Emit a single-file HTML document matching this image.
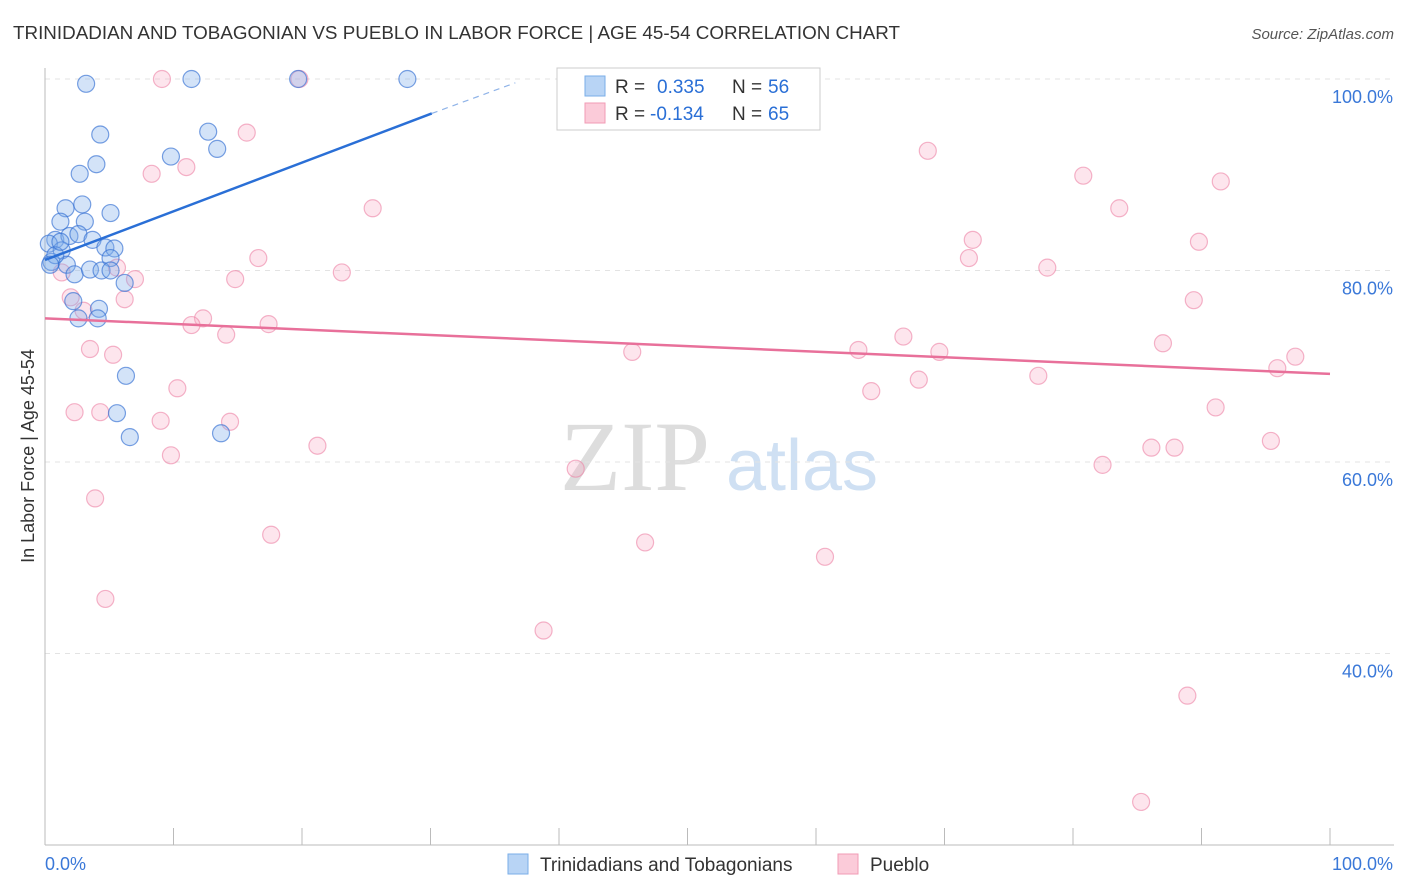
<!DOCTYPE html>
<html><head><meta charset="utf-8"><style>
body{margin:0;background:#fff;font-family:"Liberation Sans",sans-serif}
svg{display:block}
</style></head><body>
<svg width="1406" height="892" xmlns="http://www.w3.org/2000/svg">
<text x="13" y="39" font-size="18" fill="#333" textLength="887" lengthAdjust="spacingAndGlyphs">TRINIDADIAN AND TOBAGONIAN VS PUEBLO IN LABOR FORCE | AGE 45-54 CORRELATION CHART</text>
<text x="1394" y="39" font-size="15" fill="#555" font-style="italic" text-anchor="end">Source: ZipAtlas.com</text>
<text x="34" y="456" font-size="18" fill="#333" text-anchor="middle" transform="rotate(-90 34 456)">In Labor Force | Age 45-54</text>
<text x="635" y="490" font-size="100" fill="#ddd" font-family="Liberation Serif,serif" text-anchor="middle">ZIP</text>
<text x="802" y="490" font-size="72" fill="#cfe0f3" text-anchor="middle">atlas</text>
<g id="grid"></g>
<g id="axes"></g>
<g id="pts"></g>
<g id="lines"></g>
<g>
<rect x="557" y="68" width="263" height="62" fill="#fff" stroke="#ccc"/>
<rect x="585" y="76" width="20" height="20" fill="#b8d4f5" stroke="#7aaee8"/>
<rect x="585" y="103" width="20" height="20" fill="#fbcbd9" stroke="#f19bb5"/>
<text x="615" y="93" font-size="19" fill="#333">R =</text>
<text x="657" y="93" font-size="19" fill="#2a6fd6">0.335</text>
<text x="732" y="93" font-size="19" fill="#333">N =</text>
<text x="768" y="93" font-size="19" fill="#2a6fd6">56</text>
<text x="615" y="120" font-size="19" fill="#333">R =</text>
<text x="650" y="120" font-size="19" fill="#2a6fd6">-0.134</text>
<text x="732" y="120" font-size="19" fill="#333">N =</text>
<text x="768" y="120" font-size="19" fill="#2a6fd6">65</text>
</g>
<g>
<rect x="508" y="854" width="20" height="20" fill="#b8d4f5" stroke="#7aaee8"/>
<text x="540" y="871" font-size="19" fill="#333">Trinidadians and Tobagonians</text>
<rect x="838" y="854" width="20" height="20" fill="#fbcbd9" stroke="#f19bb5"/>
<text x="870" y="871" font-size="19" fill="#333">Pueblo</text>
</g>
</svg>
<script>
const blueX=[3.2,11.4,19.7,28.2,12.7,4.3,9.8,13.4,4.0,2.7,1.6,2.9,5.1,1.2,3.1,0.8,1.9,2.6,3.7,0.3,4.7,5.4,1.3,5.1,0.5,1.7,2.3,3.5,4.4,5.1,6.2,2.2,4.2,2.6,4.1,6.3,5.6,6.6,13.7,0.8,0.4,1.2];
const blueY=[99.5,100,100,100,94.5,94.2,91.9,92.7,91.1,90.1,86.5,86.9,86.0,85.1,85.1,83.2,83.6,83.8,83.2,82.8,82.4,82.3,82.1,81.3,80.9,80.6,79.6,80.1,80.0,80.0,78.7,76.8,76.0,75.0,75.0,69.0,65.1,62.6,63.0,81.6,80.6,83.0];
const pinkX=[9.1,19.8,47,59.5,15.7,8.3,11.0,68.7,80.8,91.5,25.5,83.6,72.2,89.8,16.6,71.9,23.1,78,14.8,7.0,5.6,1.3,2.0,6.2,89.4,3,12.3,11.4,17.4,14.1,66.8,3.5,5.3,45.7,63.3,69.6,87,97.3,95.9,68,77.3,10.3,64.3,2.3,4.3,9.0,14.4,91.1,9.8,21.2,95.4,86.1,87.9,82.3,41.3,3.9,17.6,46.7,60.7,4.7,38.8,88.9,85.3];
const pinkY=[100,100,100,100,94.4,90.1,90.8,92.5,89.9,89.3,86.5,86.5,83.2,83.0,81.3,81.3,79.8,80.3,79.1,79.1,80.3,79.8,77.2,77.0,76.9,75.8,75.0,74.3,74.4,73.3,73.1,71.8,71.2,71.5,71.7,71.5,72.4,71.0,69.8,68.6,69.0,67.7,67.4,65.2,65.2,64.3,64.2,65.7,60.7,61.7,62.2,61.5,61.5,59.7,59.3,56.2,52.4,51.6,50.1,45.7,42.4,35.6,24.5];
const yTicks=[100,80,60,40];
const xTickLabels=["0.0%","100.0%"];
const blueTrend=[[0,81.1],[30.1,96.4],[36.6,99.6]];
const pinkTrend=[[0,75.0],[100,69.2]];
const NS="http://www.w3.org/2000/svg";
const sx=v=>45+v*12.85, sy=v=>79+(100-v)*9.575;
function mk(t,a,p){const e=document.createElementNS(NS,t);for(const k in a)e.setAttribute(k,a[k]);p.appendChild(e);return e;}
const grid=document.getElementById('grid');
yTicks.forEach(t=>{
 const l=mk('line',{x1:45,x2:1394,y1:sy(t),y2:sy(t),stroke:'#e3e3e3','stroke-dasharray':'5,5'},grid);
 
 
 const tx=mk('text',{x:1393,y:sy(t)+24,'font-size':18,fill:'#3a78d8','text-anchor':'end'},grid);
 tx.textContent=t.toFixed(1)+'%';
 
 
});
const ax=document.getElementById('axes');
mk('line',{x1:45,x2:45,y1:68,y2:845,stroke:'#bbb'},ax);
mk('line',{x1:45,x2:1394,y1:845,y2:845,stroke:'#bbb'},ax);
for(let i=1;i<=10;i++){const x=sx(i*10);mk('line',{x1:x,x2:x,y1:828,y2:845,stroke:'#bbb'},ax);}
const t0=mk('text',{x:45,y:870,'font-size':18,fill:'#3a78d8'},ax);t0.textContent=xTickLabels[0];


const t1=mk('text',{x:1393,y:870,'font-size':18,fill:'#3a78d8','text-anchor':'end'},ax);t1.textContent=xTickLabels[1];


const pts=document.getElementById('pts');
pinkX.forEach((x,i)=>{const c=mk('circle',{cx:sx(x),cy:sy(pinkY[i]),r:8.5,fill:'rgba(248,170,195,0.3)',stroke:'rgba(236,130,165,0.6)','stroke-width':1.2},pts);
 
 });
blueX.forEach((x,i)=>{const c=mk('circle',{cx:sx(x),cy:sy(blueY[i]),r:8.5,fill:'rgba(130,175,235,0.35)',stroke:'rgba(50,110,210,0.65)','stroke-width':1.2},pts);
 
 });
const ln=document.getElementById('lines');
const b1=mk('line',{x1:sx(blueTrend[0][0]),y1:sy(blueTrend[0][1]),x2:sx(blueTrend[1][0]),y2:sy(blueTrend[1][1]),stroke:'#2a6fd6','stroke-width':2.5},ln);


const b2=mk('line',{x1:sx(blueTrend[1][0]),y1:sy(blueTrend[1][1]),x2:sx(blueTrend[2][0]),y2:sy(blueTrend[2][1]),stroke:'#8fb3e8','stroke-width':1.2,'stroke-dasharray':'6,5'},ln);


const p1=mk('line',{x1:sx(pinkTrend[0][0]),y1:sy(pinkTrend[0][1]),x2:sx(pinkTrend[1][0]),y2:sy(pinkTrend[1][1]),stroke:'#e8709a','stroke-width':2.5},ln);


</script>
</body></html>
